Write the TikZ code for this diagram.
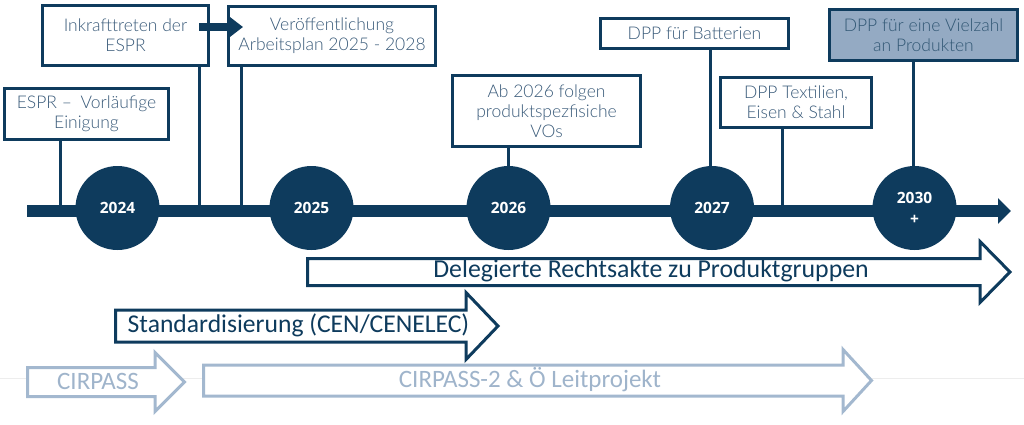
\documentclass[tikz,border=0pt]{standalone}
\usepackage{fontspec}
\setmainfont{Lato}
\newfontfamily\boxfont{Lato Light}
\newfontfamily\arrfont{Carlito}
\newfontfamily\yearfont{Open Sans}
\usetikzlibrary{arrows.meta}
\definecolor{dark}{HTML}{0E3B5D}
\definecolor{boxtext}{HTML}{3A5B7A}
\definecolor{lightc}{HTML}{A3B8CF}
\definecolor{lighttext}{HTML}{9FB4CB}
\definecolor{fillc}{HTML}{94AAC3}
\tikzset{
  box/.style={draw=dark, line width=3pt, fill=white, inner sep=2pt, align=center,
    font=\boxfont\fontsize{17.5}{20}\selectfont, text=boxtext},
  year/.style={circle, fill=dark, minimum size=84pt, inner sep=0pt, text=white,
    font=\yearfont\bfseries\fontsize{15.5}{21}\selectfont, align=center},
  conn/.style={draw=dark, line width=3pt},
  bigarrow/.style={draw=dark, line width=3pt, fill=white, line join=miter},
  lightarrow/.style={draw=lightc, line width=3pt, fill=white, line join=miter},
  darklabel/.style={font=\arrfont\fontsize{25}{30}\selectfont, text=dark, inner sep=0pt},
  lightlabel/.style={font=\arrfont\fontsize{25}{30}\selectfont, text=lighttext, inner sep=0pt}
}
\begin{document}
\begin{tikzpicture}[x=1pt,y=-1pt]
\useasboundingbox (0,0) rectangle (1024,424);
% faint guide line
\draw[black!7, line width=1pt] (0,378) -- (1024,378);
% coordinates on the bar
\coordinate (t0) at (27,211);
\coordinate (t1) at (1011,211);
\coordinate (c1) at (60,211);
\coordinate (c2) at (199,211);
\coordinate (c3) at (241,211);
\coordinate (c4) at (508,211);
\coordinate (c5) at (710,211);
\coordinate (c6) at (782,211);
\coordinate (c7) at (913,211);
% boxes
\node[box, minimum width=164pt, minimum height=51pt] (b1) at (86.5,114) {ESPR –\enspace Vorläufige\\Einigung};
\node[box, minimum width=166pt, minimum height=60pt] (b2) at (125.5,35.5) {Inkrafttreten der\\ESPR};
\node[box, minimum width=207pt, minimum height=59pt] (b3) at (332,36) {Veröffentlichung\\Arbeitsplan 2025 - 2028};
\node[box, minimum width=188pt, minimum height=71pt] (b4) at (546.5,111) {Ab 2026 folgen\\produktspezfisiche\\VOs};
\node[box, minimum width=188pt, minimum height=30pt] (b5) at (694.5,33.5) {DPP für Batterien};
\node[box, minimum width=151pt, minimum height=50pt] (b6) at (796,102.5) {DPP Textilien,\\Eisen \& Stahl};
\node[box, fill=fillc, text=dark!85, minimum width=188pt, minimum height=51pt] (b7) at (923.5,35) {DPP für eine Vielzahl\\an Produkten};
% connectors
\draw[conn] (b1.south -| c1) -- (c1);
\draw[conn] (b2.south -| c2) -- (c2);
\draw[conn] (b3.south -| c3) -- (c3);
\draw[conn] (b4.south -| c4) -- (c4);
\draw[conn] (b5.south -| c5) -- (c5);
\draw[conn] (b6.south -| c6) -- (c6);
\draw[conn] (b7.south -| c7) -- (c7);
% timeline bar
\draw[dark, line width=12pt, -{Triangle[length=13pt,width=25pt]}] (t0) -- (t1);
% year circles
\node[year] (y2024) at (117.5,208) {2024};
\node[year] (y2025) at (311.5,208) {2025};
\node[year] (y2026) at (508.5,208) {2026};
\node[year] (y2027) at (712,208) {2027};
\node[year] (y2030) at (914.5,208) {2030\\+};
% small arrow between boxes
\draw[dark, line width=8pt, -{Triangle[length=13pt,width=19pt]}]
  ([shift={(-11,-8.5)}]b2.east) -- ([shift={(16,-9)}]b3.west);
% big arrows
\draw[bigarrow] (307.5,258.5) -- (980,258.5) -- (980,241.5) -- (1010,272) -- (980,302.5) -- (980,285.5) -- (307.5,285.5) -- cycle;
\node[darklabel, font=\arrfont\fontsize{25.8}{30}\selectfont] (a1) at (651,271) {Delegierte Rechtsakte zu Produktgruppen};
\draw[bigarrow] (115.5,310) -- (466,310) -- (466,292.5) -- (498,326) -- (466,359.5) -- (466,342) -- (115.5,342) -- cycle;
\node[darklabel, font=\arrfont\fontsize{25.6}{30}\selectfont] (a2) at (298.5,325) {Standardisierung (CEN/CENELEC)};
\draw[lightarrow] (27.5,367.5) -- (155,367.5) -- (155,352.5) -- (184.5,382) -- (155,411.5) -- (155,396.5) -- (27.5,396.5) -- cycle;
\node[lightlabel] (a3) at (98,381) {CIRPASS};
\draw[lightarrow] (203.5,365) -- (843,365) -- (843,349.5) -- (871.5,380.5) -- (843,411.5) -- (843,396) -- (203.5,396) -- cycle;
\node[lightlabel] (a4) at (530,379.5) {CIRPASS-2 \& Ö Leitprojekt};
\end{tikzpicture}
\end{document}
